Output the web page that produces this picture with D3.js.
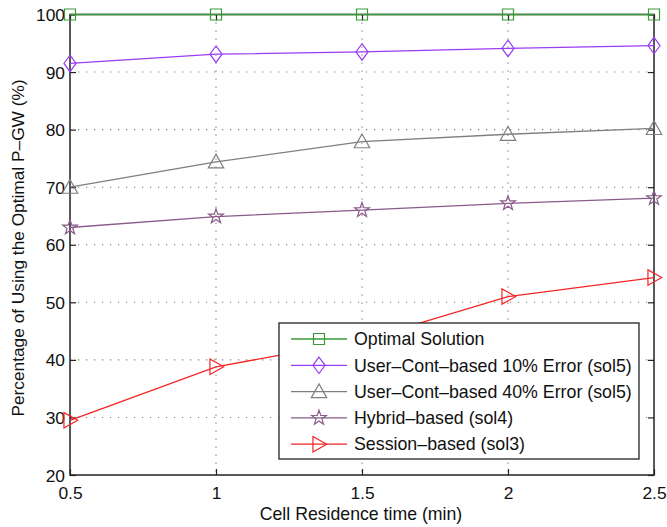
<!DOCTYPE html>
<html><head><meta charset="utf-8">
<script src="https://cdn.jsdelivr.net/npm/d3@7"></script>
<style>body{margin:0;background:#fff}svg{font-family:"Liberation Sans",Arial,sans-serif}</style>
</head><body><svg id="c" width="667" height="527"></svg>
<script>
const xValues = [0.5, 1, 1.5, 2, 2.5];
const xTicks = [0.5, 1, 1.5, 2, 2.5];
const yTicks = [20, 30, 40, 50, 60, 70, 80, 90, 100];
const optimal = [100, 100, 100, 100, 100];
const userCont10 = [91.5, 93.1, 93.5, 94.1, 94.6];
const userCont40 = [70.0, 74.4, 77.9, 79.2, 80.2];
const hybrid = [63.0, 64.9, 66.0, 67.2, 68.1];
const session = [29.5, 38.8, 43.4, 51.0, 54.3];
const seriesNames = ["Optimal Solution","User\u2013Cont\u2013based 10% Error (sol5)","User\u2013Cont\u2013based 40% Error (sol5)","Hybrid\u2013based (sol4)","Session\u2013based (sol3)"];
const seriesColors = ["#3a9a3a","#9a3cf5","#7f7f7f","#8a5a8a","#f52525"];
const seriesMarkers = ["square","diamond","triangle","star","rtriangle"];
const seriesData = [optimal, userCont10, userCont40, hybrid, session];

const svg = d3.select("#c");
const L=70, R=654, T=14.5, B=475;
const x = d3.scaleLinear().domain([0.5,2.5]).range([L,R]);
const y = d3.scaleLinear().domain([20,100]).range([B,T]);

// grid
const g = svg.append("g");
g.selectAll(".gx").data(xTicks.slice(1,-1)).enter().append("line")
 .attr("x1",d=>x(d)).attr("x2",d=>x(d)).attr("y1",T).attr("y2",B)
 .attr("stroke","#777").attr("stroke-width",1.1).attr("stroke-dasharray","1.2,6.8");
g.selectAll(".gy").data(yTicks.slice(1,-1)).enter().append("line")
 .attr("y1",d=>y(d)).attr("y2",d=>y(d)).attr("x1",L).attr("x2",R)
 .attr("stroke","#777").attr("stroke-width",1.1).attr("stroke-dasharray","1.2,6.8");

// axes
const xa = svg.append("g").attr("transform",`translate(0,${B})`)
 .call(d3.axisBottom(x).tickValues(xTicks).tickFormat(d3.format("")).tickSizeInner(-6).tickSizeOuter(0).tickPadding(12));
const xt = svg.append("g").attr("transform",`translate(0,${T})`)
 .call(d3.axisTop(x).tickValues(xTicks).tickFormat("").tickSizeInner(-6).tickSizeOuter(0));
const ya = svg.append("g").attr("transform",`translate(${L},0)`)
 .call(d3.axisLeft(y).tickValues(yTicks).tickSizeInner(-6).tickSizeOuter(0).tickPadding(5));
const yr = svg.append("g").attr("transform",`translate(${R},0)`)
 .call(d3.axisRight(y).tickValues(yTicks).tickFormat("").tickSizeInner(-6).tickSizeOuter(0));
[xa,xt,ya,yr].forEach(a=>{a.select(".domain").remove();a.selectAll("line").attr("stroke","#222").attr("stroke-width",1.2);
 a.selectAll("text").attr("font-size",17.4).attr("fill","#111").attr("font-family","Liberation Sans, Arial, sans-serif");});
ya.selectAll("text").attr("dy","0.35em");

svg.append("rect").attr("x",L).attr("y",T).attr("width",R-L).attr("height",B-T)
 .attr("fill","none").attr("stroke","#222").attr("stroke-width",1.5);

function markerPath(type, s){
  if(type==="square") return `M${-s},${-s}H${s}V${s}H${-s}Z`;
  if(type==="diamond") return `M0,${-s*1.5}L${s*1.1},0L0,${s*1.5}L${-s*1.1},0Z`;
  if(type==="triangle") return `M0,${-s*1.4}L${s*1.4},${s*1.1}L${-s*1.4},${s*1.1}Z`;
  if(type==="rtriangle") return `M${s*1.4},0L${-s*1.1},${-s*1.4}L${-s*1.1},${s*1.4}Z`;
  if(type==="star"){const p=[];for(let i=0;i<10;i++){const r=i%2?s*0.55:s*1.4;const a=-Math.PI/2+i*Math.PI/5;p.push([r*Math.cos(a),r*Math.sin(a)]);}return "M"+p.map(q=>q.join(",")).join("L")+"Z";}
}
const line = d3.line().x((d,i)=>x(xValues[i])).y(d=>y(d));
seriesData.forEach((data,k)=>{
  svg.append("path").attr("d",line(data)).attr("fill","none").attr("stroke",seriesColors[k]).attr("stroke-width",1.3);
  svg.selectAll(null).data(data).enter().append("path")
   .attr("transform",(d,i)=>`translate(${x(xValues[i])},${y(d)})`)
   .attr("d",markerPath(seriesMarkers[k],5.5)).attr("fill","none").attr("stroke",seriesColors[k]).attr("stroke-width",1.2);
});

// legend
const lg = svg.append("g");
lg.append("rect").attr("x",279).attr("y",323).attr("width",360).attr("height",136)
 .attr("fill","#fff").attr("stroke","#222").attr("stroke-width",1.3);
seriesNames.forEach((n,k)=>{
  const yy = 339 + k*26.3;
  lg.append("line").attr("x1",291).attr("x2",347).attr("y1",yy).attr("y2",yy).attr("stroke",seriesColors[k]).attr("stroke-width",1.3);
  lg.append("path").attr("transform",`translate(319,${yy})`).attr("d",markerPath(seriesMarkers[k],5.5))
   .attr("fill","none").attr("stroke",seriesColors[k]).attr("stroke-width",1.2);
  lg.append("text").attr("x",354).attr("y",yy).attr("dy","0.35em").attr("font-size",17.8).attr("fill","#111").text(n);
});

svg.append("text").attr("x",361).attr("y",520).attr("text-anchor","middle").attr("font-size",17.7).attr("fill","#111").text("Cell Residence time (min)");
svg.append("text").attr("transform",`translate(24,248) rotate(-90)`).attr("text-anchor","middle").attr("font-size",17.3).attr("fill","#111").text("Percentage of Using the Optimal P\u2013GW (%)");
</script></body></html>
